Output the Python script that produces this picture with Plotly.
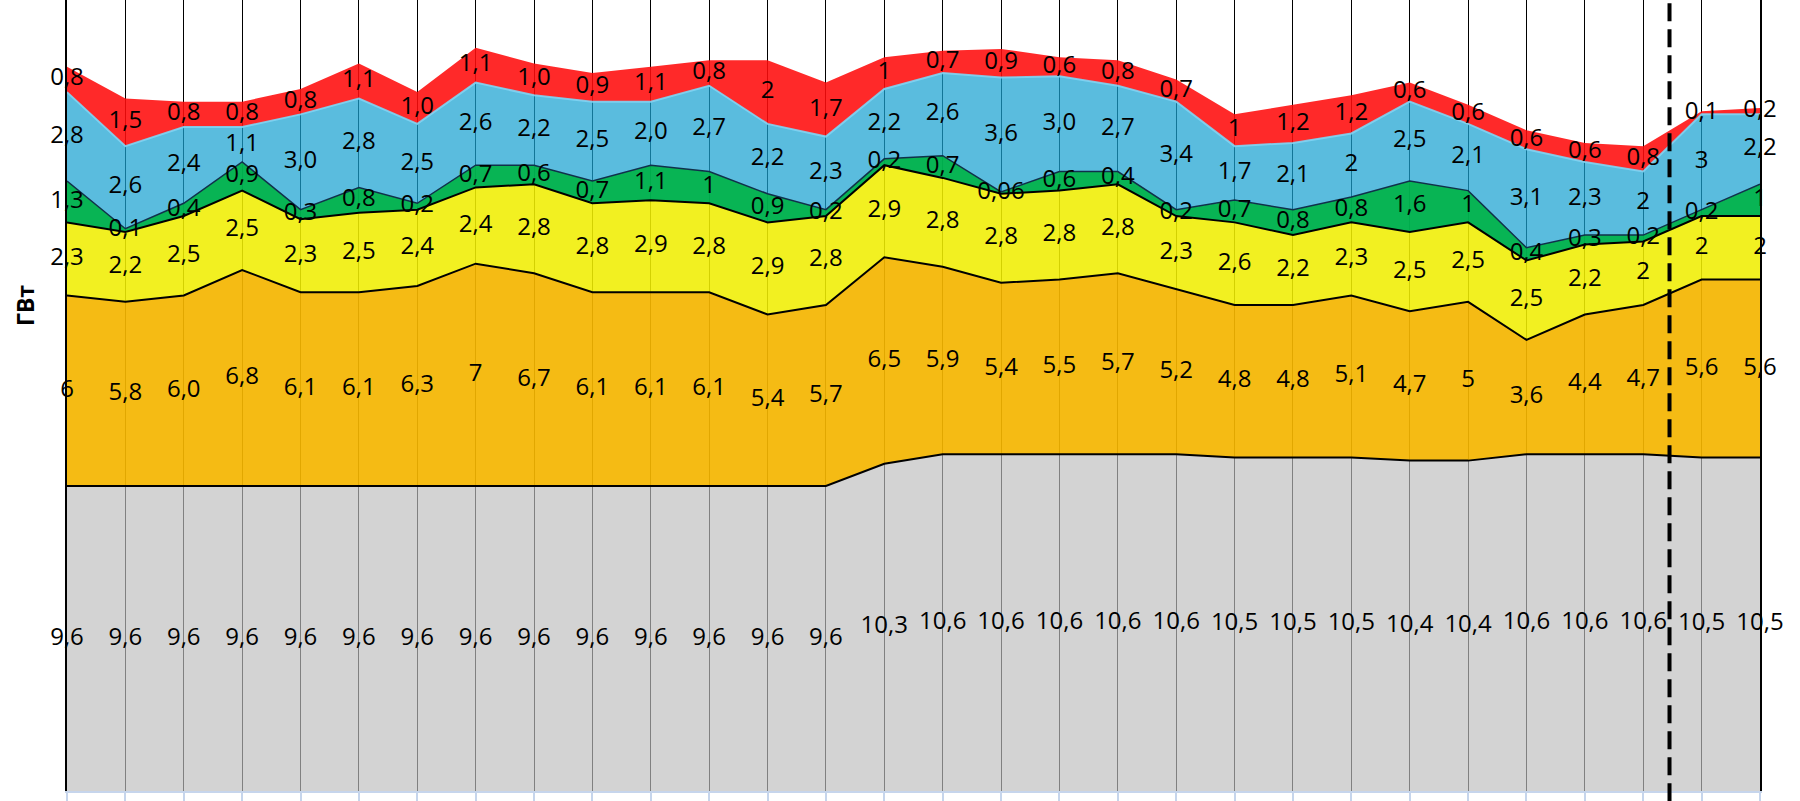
import plotly.graph_objects as go

# ---------------- data ----------------
positions = list(range(30))

gray_vals = [9.6] * 14 + [10.3, 10.6, 10.6, 10.6, 10.6, 10.6, 10.5, 10.5, 10.5,
                          10.4, 10.4, 10.6, 10.6, 10.6, 10.5, 10.5]
gray_labels = ["9,6"] * 14 + ["10,3", "10,6", "10,6", "10,6", "10,6", "10,6", "10,5",
                              "10,5", "10,5", "10,4", "10,4", "10,6", "10,6", "10,6",
                              "10,5", "10,5"]

orange_vals = [6, 5.8, 6.0, 6.8, 6.1, 6.1, 6.3, 7, 6.7, 6.1, 6.1, 6.1, 5.4, 5.7, 6.5,
               5.9, 5.4, 5.5, 5.7, 5.2, 4.8, 4.8, 5.1, 4.7, 5, 3.6, 4.4, 4.7, 5.6, 5.6]
orange_labels = ["6", "5,8", "6,0", "6,8", "6,1", "6,1", "6,3", "7", "6,7", "6,1", "6,1",
                 "6,1", "5,4", "5,7", "6,5", "5,9", "5,4", "5,5", "5,7", "5,2", "4,8",
                 "4,8", "5,1", "4,7", "5", "3,6", "4,4", "4,7", "5,6", "5,6"]

yellow_vals = [2.3, 2.2, 2.5, 2.5, 2.3, 2.5, 2.4, 2.4, 2.8, 2.8, 2.9, 2.8, 2.9, 2.8, 2.9,
               2.8, 2.8, 2.8, 2.8, 2.3, 2.6, 2.2, 2.3, 2.5, 2.5, 2.5, 2.2, 2, 2, 2]
yellow_labels = ["2,3", "2,2", "2,5", "2,5", "2,3", "2,5", "2,4", "2,4", "2,8", "2,8",
                 "2,9", "2,8", "2,9", "2,8", "2,9", "2,8", "2,8", "2,8", "2,8", "2,3",
                 "2,6", "2,2", "2,3", "2,5", "2,5", "2,5", "2,2", "2", "2", "2"]

green_vals = [1.3, 0.1, 0.4, 0.9, 0.3, 0.8, 0.2, 0.7, 0.6, 0.7, 1.1, 1, 0.9, 0.2, 0.2,
              0.7, 0.06, 0.6, 0.4, 0.2, 0.7, 0.8, 0.8, 1.6, 1, 0.4, 0.3, 0.2, 0.2, 1]
green_labels = ["1,3", "0,1", "0,4", "0,9", "0,3", "0,8", "0,2", "0,7", "0,6", "0,7",
                "1,1", "1", "0,9", "0,2", "0,2", "0,7", "0,06", "0,6", "0,4", "0,2",
                "0,7", "0,8", "0,8", "1,6", "1", "0,4", "0,3", "0,2", "0,2", "1"]

blue_vals = [2.8, 2.6, 2.4, 1.1, 3.0, 2.8, 2.5, 2.6, 2.2, 2.5, 2.0, 2.7, 2.2, 2.3, 2.2,
             2.6, 3.6, 3.0, 2.7, 3.4, 1.7, 2.1, 2, 2.5, 2.1, 3.1, 2.3, 2, 3, 2.2]
blue_labels = ["2,8", "2,6", "2,4", "1,1", "3,0", "2,8", "2,5", "2,6", "2,2", "2,5",
               "2,0", "2,7", "2,2", "2,3", "2,2", "2,6", "3,6", "3,0", "2,7", "3,4",
               "1,7", "2,1", "2", "2,5", "2,1", "3,1", "2,3", "2", "3", "2,2"]

red_vals = [0.8, 1.5, 0.8, 0.8, 0.8, 1.1, 1.0, 1.1, 1.0, 0.9, 1.1, 0.8, 2, 1.7, 1,
            0.7, 0.9, 0.6, 0.8, 0.7, 1, 1.2, 1.2, 0.6, 0.6, 0.6, 0.6, 0.8, 0.1, 0.2]
red_labels = ["0,8", "1,5", "0,8", "0,8", "0,8", "1,1", "1,0", "1,1", "1,0", "0,9",
              "1,1", "0,8", "2", "1,7", "1", "0,7", "0,9", "0,6", "0,8", "0,7", "1",
              "1,2", "1,2", "0,6", "0,6", "0,6", "0,6", "0,8", "0,1", "0,2"]

forecast_split = 27.45
y_title = "ГВт"

# ---------------- styles ----------------
series = [
    (gray_vals, gray_labels, "rgba(190,190,190,0.675)", "black", 2),
    (orange_vals, orange_labels, "rgba(244,181,0,0.92)", "black", 2),
    (yellow_vals, yellow_labels, "rgba(240,238,2,0.88)", "black", 2),
    (green_vals, green_labels, "rgba(0,178,78,0.97)", "#10304a", 1.5),
    (blue_vals, blue_labels, "rgba(27,162,209,0.72)", "rgba(125,212,244,0.9)", 2),
    (red_vals, red_labels, "rgba(255,11,11,0.88)", "rgba(0,0,0,0)", 0),
]

fig = go.Figure()
base = [0.0] * len(positions)
text_traces = []
for vals, labels, fillc, linec, lw in series:
    fig.add_trace(go.Scatter(
        x=positions, y=vals, stackgroup="one", mode="lines",
        line=dict(color=linec, width=lw, shape="linear"),
        fillcolor=fillc, showlegend=False, hoverinfo="skip",
    ))
    centers = [b + v / 2 for b, v in zip(base, vals)]
    text_traces.append(go.Scatter(
        x=positions, y=centers, mode="text", text=labels,
        textposition="middle center",
        textfont=dict(family="Open Sans", size=24, color="black"),
        showlegend=False, cliponaxis=False, hoverinfo="skip",
    ))
    base = [b + v for b, v in zip(base, vals)]

for t in text_traces:
    fig.add_trace(t)

x_min, x_max = positions[0], positions[-1]

fig.update_layout(
    width=1800, height=801,
    margin=dict(l=67, r=40, t=0, b=10),
    paper_bgcolor="white", plot_bgcolor="white",
    xaxis=dict(
        range=[x_min, x_max], tickvals=positions, showticklabels=False,
        showgrid=True, gridcolor="black", gridwidth=1.3,
        ticks="outside", ticklen=10, tickcolor="#C6D5EC", tickwidth=1.5,
        showline=True, linecolor="#C6D5EC", linewidth=2, zeroline=False,
    ),
    yaxis=dict(
        range=[0, 24.9], showgrid=False, showticklabels=False, ticks="",
        showline=True, linecolor="black", linewidth=2, mirror=True, zeroline=False,
    ),
    shapes=[dict(
        type="line", xref="paper", yref="paper",
        x0=(forecast_split - x_min) / (x_max - x_min),
        x1=(forecast_split - x_min) / (x_max - x_min),
        y0=-0.013, y1=1,
        line=dict(color="black", width=4, dash="18px,8px"),
    )],
    annotations=[dict(
        text="<b>" + y_title + "</b>", xref="paper", yref="paper",
        x=-42 / 1693, y=(791 - 306) / 791, textangle=-90, showarrow=False,
        font=dict(family="Open Sans", size=23, color="black"),
        xanchor="center", yanchor="middle",
    )],
)

fig.write_html(
    "out.html",
    config={"displayModeBar": False},
    post_script="document.body.style.margin='0px';document.body.style.overflow='hidden';",
)
